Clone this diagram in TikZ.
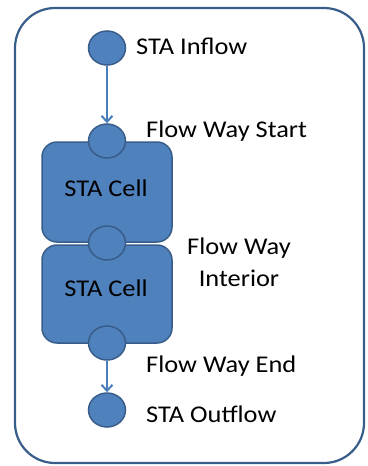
\documentclass[tikz,border=0pt]{standalone}
\usepackage{fontspec}
\setmainfont[FakeStretch=1.1]{Carlito}
\usetikzlibrary{shapes.geometric,arrows.meta}
\definecolor{cfill}{HTML}{4F81BD}
\definecolor{cline}{HTML}{385D8A}
\definecolor{carrow}{HTML}{4A7EBB}
\begin{document}
\begin{tikzpicture}[x=1pt,y=-1pt,
  frame/.style={draw=cline,line width=2.2pt,rounded corners=40pt,minimum width=349pt,minimum height=455pt,inner sep=0pt},
  cell/.style={draw=cline,fill=cfill,line width=1.5pt,rounded corners=15pt,minimum width=130pt,inner sep=0pt},
  port/.style={ellipse,draw=cline,fill=cfill,line width=1.5pt,minimum width=37pt,minimum height=34pt,inner sep=0pt},
  lbl/.style={font=\fontsize{24}{29}\selectfont,inner sep=0pt,text=black},
  arr/.style={draw=carrow,line width=2pt,-{Straight Barb[length=6pt,width=11pt]}}]
\useasboundingbox (0,0) rectangle (367,466);
\node[frame] (frame) at (189.5,235.5) {};
\node[cell,minimum height=100pt] (cell1) at (107,192) {};
\node[cell,minimum height=98pt] (cell2) at (107,294) {};
\node[port] (inflow) at (107,48) {};
\node[port] (start) at (107,141) {};
\node[port] (interior) at (107,243) {};
\node[port] (end) at (107,343) {};
\node[port] (outflow) at (107,410) {};
\draw[arr] (inflow) -- (start);
\draw[arr] (end) -- (outflow);
\node[lbl,anchor=base] (t1) at (106,196) {STA Cell};
\node[lbl,anchor=base] (t2) at (106,296) {STA Cell};
\node[lbl,anchor=base west] (tin) at (136,54) {STA Inflow};
\node[lbl,anchor=base west] (tst) at (146,137) {Flow Way Start};
\node[lbl,anchor=base] (ti1) at (239,254) {Flow Way};
\node[lbl,anchor=base] (ti2) at (239,286) {Interior};
\node[lbl,anchor=base west] (ten) at (146,372) {Flow Way End};
\node[lbl,anchor=base west] (tout) at (146,422) {STA Outflow};
\end{tikzpicture}
\end{document}
